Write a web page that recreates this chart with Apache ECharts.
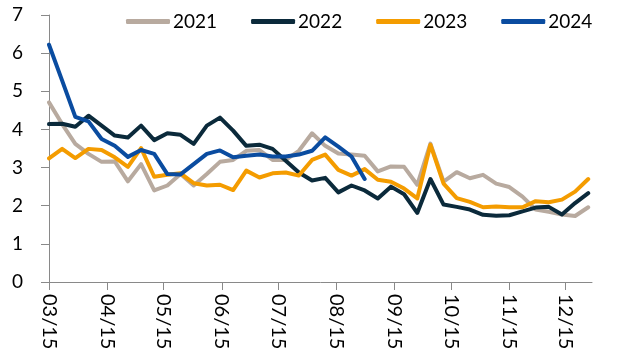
<!DOCTYPE html>
<html>
<head>
<meta charset="utf-8">
<script src="https://cdn.jsdelivr.net/npm/echarts@6/dist/echarts.min.js"></script>
<style>
  html, body { margin: 0; padding: 0; background: #ffffff; }
  #chart { width: 621px; height: 355px; }
</style>
</head>
<body>
<div id="chart"></div>
<script>
// ---- data ----
const year = '2021'; // common display year for the seasonal overlay
const weeks = ['03-15','03-22','03-29','04-05','04-12','04-19','04-26','05-03','05-10','05-17',
               '05-24','05-31','06-07','06-14','06-21','06-28','07-05','07-12','07-19','07-26',
               '08-02','08-09','08-16','08-23','08-30','09-06','09-13','09-20','09-27','10-04',
               '10-11','10-18','10-25','11-01','11-08','11-15','11-22','11-29','12-06','12-13',
               '12-20','12-27'];
const seriesNames = ['2021', '2022', '2023', '2024'];
const values2021 = [4.71,4.14,3.62,3.36,3.15,3.16,2.64,3.09,2.40,2.53,
                    2.83,2.53,2.83,3.15,3.20,3.44,3.46,3.20,3.20,3.44,
                    3.90,3.57,3.37,3.34,3.31,2.90,3.03,3.02,2.55,3.63,
                    2.63,2.88,2.72,2.81,2.58,2.49,2.24,1.90,1.84,1.77,
                    1.73,1.96];
const values2022 = [4.14,4.15,4.07,4.36,4.10,3.84,3.79,4.10,3.72,3.90,
                    3.86,3.62,4.10,4.31,3.97,3.57,3.60,3.49,3.18,2.87,
                    2.66,2.73,2.35,2.53,2.40,2.19,2.50,2.30,1.81,2.70,
                    2.03,1.97,1.90,1.76,1.74,1.75,1.85,1.95,1.97,1.77,
                    2.07,2.33];
const values2023 = [3.24,3.49,3.25,3.49,3.46,3.27,3.02,3.51,2.76,2.81,
                    2.85,2.59,2.53,2.55,2.41,2.92,2.74,2.85,2.87,2.79,
                    3.20,3.34,2.94,2.79,2.96,2.68,2.63,2.45,2.19,3.60,
                    2.58,2.20,2.10,1.96,1.98,1.96,1.96,2.12,2.09,2.16,
                    2.37,2.70];
const values2024 = [6.22,5.28,4.33,4.21,3.75,3.57,3.28,3.46,3.36,2.83,
                    2.82,3.09,3.36,3.45,3.27,3.31,3.34,3.29,3.29,3.34,
                    3.44,3.79,3.55,3.29,2.70];
const tickDates = ['03-15','04-15','05-15','06-15','07-15','08-15','09-15','10-15','11-15','12-15'];
const tickLabels = ['03/15','04/15','05/15','06/15','07/15','08/15','09/15','10/15','11/15','12/15'];
const yTicks = [0, 1, 2, 3, 4, 5, 6, 7];
const axisStart = '03-15';
const axisEnd = '12-29';

// ---- build ----
const colors = ['#B8AA9F', '#0B2A3B', '#F49C00', '#0A4CA0'];
const allValues = [values2021, values2022, values2023, values2024];
const DAY = 86400000;
const base = Date.UTC(+year, 2, 15);
// x position measured in days since the first axis date
const toDay = (md) => {
  const [m, d] = md.split('-').map(Number);
  return Math.round((Date.UTC(+year, m - 1, d) - base) / DAY);
};
const tickDays = tickDates.map(toDay);
const FONT = 'Lato';

const series = seriesNames.map((name, s) => ({
  name: name,
  type: 'line',
  data: allValues[s].map((v, i) => [toDay(weeks[i]), v]),
  symbol: 'none',
  smooth: false,
  lineStyle: { width: 4, color: colors[s], join: 'round', cap: 'round' },
  itemStyle: { color: colors[s] },
  emphasis: { disabled: true },
  z: 2 + s
}));

const chart = echarts.init(document.getElementById('chart'), null, { renderer: 'canvas' });
chart.setOption({
  animation: false,
  backgroundColor: '#ffffff',
  textStyle: { fontFamily: FONT },
  legend: {
    data: seriesNames,
    left: 121,
    top: 7,
    icon: 'roundRect',
    itemWidth: 44,
    itemHeight: 5,
    itemGap: 34,
    textStyle: { fontFamily: FONT, fontSize: 19, color: '#000000', padding: [0, 0, 0, -2] }
  },
  grid: {
    left: 49, right: 29, top: 15, bottom: 73,
    containLabel: false,
    outerBoundsMode: 'none'
  },
  xAxis: {
    type: 'value',
    min: toDay(axisStart),
    max: toDay(axisEnd),
    axisLine: { show: true, onZero: false, lineStyle: { color: '#898989', width: 1 } },
    axisTick: { show: true, inside: false, length: 8, lineStyle: { color: '#898989' }, customValues: tickDays },
    splitLine: { show: false },
    axisLabel: {
      customValues: tickDays,
      rotate: -90,
      margin: 12,
      fontFamily: FONT,
      fontSize: 20,
      color: '#000000',
      formatter: (val) => {
        const idx = tickDays.indexOf(val);
        return idx >= 0 ? tickLabels[idx] : '';
      }
    }
  },
  yAxis: {
    type: 'value',
    min: yTicks[0],
    max: yTicks[yTicks.length - 1],
    interval: 1,
    axisLine: { show: true, lineStyle: { color: '#898989', width: 1 } },
    axisTick: { show: true, inside: false, length: 8, lineStyle: { color: '#898989' } },
    splitLine: { show: false },
    axisLabel: { margin: 26, fontFamily: FONT, fontSize: 19, color: '#000000', align: 'right' }
  },
  series: series
});
</script>
</body>
</html>
